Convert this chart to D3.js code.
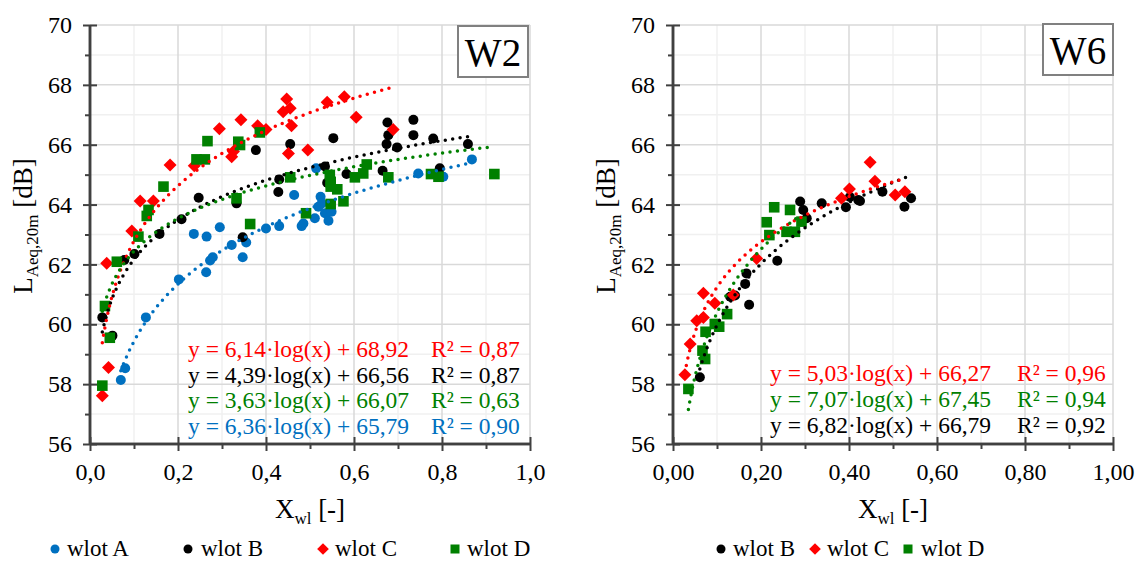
<!DOCTYPE html>
<html>
<head>
<meta charset="utf-8">
<script src="https://cdn.jsdelivr.net/npm/d3@7"></script>
<style>
  html, body { margin: 0; padding: 0; background: #fff; }
  svg text { font-family: "Liberation Serif", "Times New Roman", Times, serif; }
</style>
</head>
<body>
<svg id="chart" width="1137" height="561" font-family="Liberation Serif, Times New Roman, serif"></svg>
<script>
// ---- W2 measurements: [X_wl, L_Aeq,20m] ----
const w2A = [[0.07,58.14],[0.08,58.53],[0.127,60.23],[0.202,61.5],[0.236,63.02],[0.264,61.74],[0.265,62.93],
  [0.273,62.13],[0.279,62.24],[0.295,63.24],[0.322,62.65],[0.347,62.24],[0.355,62.73],[0.40,63.2],[0.43,63.28],
  [0.464,64.32],[0.481,63.28],[0.485,63.37],[0.511,63.54],[0.514,65.21],[0.519,63.93],[0.524,64.26],[0.527,64.04],
  [0.534,63.71],[0.542,63.46],[0.549,63.76],[0.746,65.04],[0.803,64.93],[0.868,65.51]];
const w2B = [[0.028,60.23],[0.051,59.62],[0.078,62.15],[0.101,62.35],[0.158,63.02],[0.208,63.51],[0.247,64.23],
  [0.333,64.04],[0.347,62.91],[0.377,65.82],[0.428,64.42],[0.43,64.84],[0.455,66.02],[0.534,65.27],[0.539,64.73],
  [0.553,66.22],[0.583,65.02],[0.665,65.13],[0.674,66.02],[0.676,66.74],[0.678,66.32],[0.698,65.91],[0.735,66.83],
  [0.735,66.32],[0.78,66.21],[0.795,65.21],[0.859,66.02]];
const w2C = [[0.028,57.61],[0.042,58.56],[0.038,62.04],[0.095,63.12],[0.114,64.12],[0.144,64.12],[0.182,65.32],
  [0.237,65.3],[0.294,66.53],[0.322,65.6],[0.326,65.77],[0.343,66.83],[0.381,66.63],[0.40,66.51],[0.439,67.1],
  [0.447,67.53],[0.451,65.71],[0.455,67.22],[0.458,66.63],[0.495,65.82],[0.539,67.42],[0.578,67.6],[0.605,66.92],
  [0.689,66.51]];
const w2D = [[0.028,57.95],[0.034,60.61],[0.045,59.55],[0.061,62.09],[0.11,62.93],[0.129,63.62],[0.133,63.82],
  [0.167,64.6],[0.242,65.51],[0.261,65.51],[0.267,66.12],[0.333,64.21],[0.337,66.1],[0.341,65.99],[0.364,63.35],
  [0.386,66.41],[0.455,64.91],[0.491,63.71],[0.545,64.99],[0.547,64.76],[0.547,64.6],[0.547,64.02],[0.562,64.51],
  [0.576,64.11],[0.602,64.91],[0.621,65.04],[0.629,65.34],[0.678,64.91],[0.775,65.02],[0.792,64.93],[0.919,65.02]];

// ---- W6 measurements ----
const w6B = [[0.061,58.23],[0.13,60.92],[0.141,60.96],[0.164,61.35],[0.167,61.7],[0.173,60.65],[0.237,62.12],
  [0.289,64.1],[0.296,63.82],[0.304,63.54],[0.338,64.04],[0.393,63.91],[0.402,64.25],[0.421,64.15],[0.425,64.12],
  [0.476,64.43],[0.526,63.93],[0.541,64.21]];
const w6C = [[0.027,58.31],[0.039,59.34],[0.054,60.12],[0.069,60.23],[0.069,61.04],[0.095,60.7],[0.137,60.98],
  [0.19,62.2],[0.383,64.21],[0.401,64.52],[0.448,65.41],[0.459,64.78],[0.505,64.32],[0.527,64.43]];
const w6D = [[0.035,57.84],[0.067,59.12],[0.073,58.84],[0.074,59.75],[0.095,60.01],[0.105,59.92],[0.123,60.34],
  [0.213,63.41],[0.219,62.98],[0.23,63.91],[0.258,63.09],[0.266,63.82],[0.277,63.09],[0.292,63.43]];

// ---- logarithmic fits: y = a·log(x) + b, with R² ----
const fitW2 = { A: [6.36, 65.79, 0.90], B: [4.39, 66.56, 0.87], C: [6.14, 68.92, 0.87], D: [3.63, 66.07, 0.63] };
const fitW6 = { B: [6.82, 66.79, 0.92], C: [5.03, 66.27, 0.96], D: [7.07, 67.45, 0.94] };

// ---- axes ----
const yMajor = [56, 58, 60, 62, 64, 66, 68, 70];
const yMinor = [57, 59, 61, 63, 65, 67, 69];
const xMajor = [0, 0.2, 0.4, 0.6, 0.8, 1.0];
const xMinor = [0.1, 0.3, 0.5, 0.7, 0.9];

const series = {
  A: { name: "wlot A", color: "#0070C0", shape: "circle" },
  B: { name: "wlot B", color: "#000000", shape: "circle" },
  C: { name: "wlot C", color: "#FF0000", shape: "diamond" },
  D: { name: "wlot D", color: "#008000", shape: "square" }
};

const svg = d3.select("#chart");
const fmtComma = (f) => (v) => d3.format(f)(v).replace(".", ",");

function marker(g, shape, color, cx, cy, s) {
  if (shape === "circle") {
    g.append("circle").attr("cx", cx).attr("cy", cy).attr("r", s).attr("fill", color);
  } else if (shape === "diamond") {
    const d = s * 1.3;
    g.append("path").attr("d", `M${cx},${cy - d}L${cx + d},${cy}L${cx},${cy + d}L${cx - d},${cy}Z`).attr("fill", color);
  } else {
    g.append("rect").attr("x", cx - s).attr("y", cy - s).attr("width", 2 * s).attr("height", 2 * s).attr("fill", color);
  }
}

function panel(opt) {
  const x = d3.scaleLinear().domain([0, 1]).range([opt.left, opt.left + 440]);
  const y = d3.scaleLinear().domain([56, 70]).range([444, 25]);
  const g = svg.append("g");

  // grid
  const grid = g.append("g");
  yMinor.forEach(v => grid.append("line").attr("x1", x(0)).attr("x2", x(1)).attr("y1", y(v)).attr("y2", y(v))
    .attr("stroke", "#f0f0f0").attr("stroke-width", 1.5));
  xMinor.forEach(v => grid.append("line").attr("x1", x(v)).attr("x2", x(v)).attr("y1", y(56)).attr("y2", y(70))
    .attr("stroke", "#f0f0f0").attr("stroke-width", 1.5));
  yMajor.forEach(v => grid.append("line").attr("x1", x(0)).attr("x2", x(1)).attr("y1", y(v)).attr("y2", y(v))
    .attr("stroke", "#d9d9d9").attr("stroke-width", 1.5));
  xMajor.forEach(v => grid.append("line").attr("x1", x(v)).attr("x2", x(v)).attr("y1", y(56)).attr("y2", y(70))
    .attr("stroke", "#d9d9d9").attr("stroke-width", 1.5));

  // axes
  const yAx = g.append("g").attr("transform", `translate(${x(0)},0)`)
    .call(d3.axisLeft(y).tickValues(yMajor).tickSize(7).tickPadding(11).tickFormat(d3.format("d")));
  yAx.selectAll(".tick line").attr("x1", 7);
  const yAxMinor = g.append("g").attr("transform", `translate(${x(0)},0)`)
    .call(d3.axisLeft(y).tickValues(yMinor).tickSize(5).tickFormat(""));
  const xAx = g.append("g").attr("transform", `translate(0,${y(56)})`)
    .call(d3.axisBottom(x).tickValues(xMajor).tickSize(7).tickPadding(12).tickFormat(fmtComma(opt.xfmt)));
  xAx.selectAll(".tick line").attr("y1", -7);
  const xAxMinor = g.append("g").attr("transform", `translate(0,${y(56)})`)
    .call(d3.axisBottom(x).tickValues(xMinor).tickSize(5).tickFormat(""));
  [yAx, yAxMinor, xAx, xAxMinor].forEach(a => {
    a.attr("font-family", null);
    a.select(".domain").attr("stroke", "#404040").attr("stroke-width", 2.5).attr("d",
      a === yAx || a === yAxMinor ? `M0,${y(56)}V${y(70)}` : `M${x(0)},0H${x(1)}`);
    a.selectAll(".tick line").attr("stroke", "#404040").attr("stroke-width", 2);
    a.selectAll(".tick text").attr("font-size", 24).attr("fill", "#000");
  });

  // markers
  const pts = g.append("g");
  opt.keys.forEach(k => {
    const s = series[k];
    opt.data[k].forEach(d => marker(pts, s.shape, s.color, x(d[0]), y(d[1]), s.shape === "square" ? 5.3 : 5));
  });

  // trend lines
  const tl = g.append("g");
  opt.keys.forEach(k => {
    const [a, b] = opt.fit[k];
    const xe = d3.extent(opt.data[k], d => d[0]);
    const xsVals = d3.range(0, 201).map(i => xe[0] + (xe[1] - xe[0]) * i / 200);
    tl.append("path")
      .attr("d", d3.line().x(v => x(v)).y(v => y(a * Math.log10(v) + b))(xsVals))
      .attr("fill", "none").attr("stroke", series[k].color).attr("stroke-width", 3.5)
      .attr("stroke-linecap", "round").attr("stroke-dasharray", "0 7.5");
  });

  // fit equations
  const eq = g.append("g").attr("font-size", 23.5);
  opt.eqOrder.forEach((k, i) => {
    const [a, b, r2] = opt.fit[k];
    const yy = opt.eqY + i * opt.eqDy;
    eq.append("text").attr("x", opt.eqX).attr("y", yy).attr("fill", series[k].color)
      .text(`y = ${fmtComma(".2f")(a)}·log(x) + ${fmtComma(".2f")(b)}`);
    eq.append("text").attr("x", opt.r2X).attr("y", yy).attr("fill", series[k].color)
      .text(`R² = ${fmtComma(".2f")(r2)}`);
  });

  // panel tag
  g.append("rect").attr("x", opt.tag[0]).attr("y", opt.tag[1]).attr("width", 70).attr("height", 51)
    .attr("fill", "#fff").attr("stroke", "#808080").attr("stroke-width", 2);
  g.append("text").attr("x", opt.tag[0] + 35).attr("y", opt.tag[1] + 40).attr("text-anchor", "middle")
    .attr("font-size", 39).attr("fill", "#000").text(opt.title);

  // axis titles
  const xt = g.append("text").attr("x", x(0.5)).attr("y", 518).attr("text-anchor", "middle")
    .attr("font-size", 27).attr("fill", "#000");
  xt.append("tspan").text("X");
  xt.append("tspan").attr("font-size", 17).attr("dy", 6).text("wl");
  xt.append("tspan").attr("dy", -6).text(" [-]");

  const yt = g.append("text").attr("transform", `translate(${x(0) - 58},226) rotate(-90)`)
    .attr("text-anchor", "middle").attr("font-size", 27).attr("fill", "#000");
  yt.append("tspan").text("L");
  yt.append("tspan").attr("font-size", 17).attr("dy", 6).text("Aeq,20m");
  yt.append("tspan").attr("dy", -6).text(" [dB]");

  // legend
  const lg = g.append("g").attr("font-size", 23);
  opt.legend.forEach(([k, mx, tx]) => {
    const s = series[k];
    marker(lg, s.shape, s.color, mx, 549, 4.5);
    lg.append("text").attr("x", tx).attr("y", 556).attr("fill", "#000").text(s.name);
  });
}

panel({
  left: 90, title: "W2", tag: [458, 26], xfmt: ".1f",
  keys: ["A", "B", "C", "D"], data: { A: w2A, B: w2B, C: w2C, D: w2D }, fit: fitW2,
  eqOrder: ["C", "B", "D", "A"], eqX: 188, r2X: 431, eqY: 357, eqDy: 25.5,
  legend: [["A", 55, 67], ["B", 188, 201], ["C", 323, 335], ["D", 455, 467]]
});
panel({
  left: 673, title: "W6", tag: [1043, 24], xfmt: ".2f",
  keys: ["B", "C", "D"], data: { B: w6B, C: w6C, D: w6D }, fit: fitW6,
  eqOrder: ["C", "D", "B"], eqX: 770, r2X: 1017, eqY: 381, eqDy: 26,
  legend: [["B", 721, 733], ["C", 815, 827], ["D", 908, 921]]
});
</script>
</body>
</html>
